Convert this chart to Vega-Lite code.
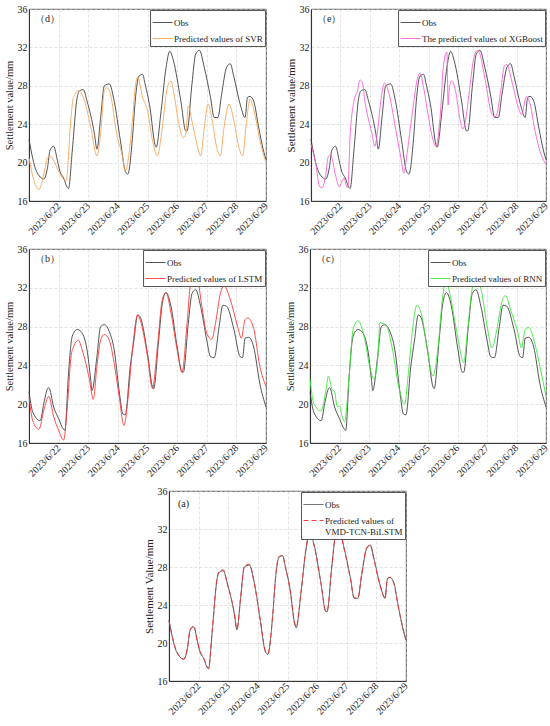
{
  "$schema": "https://vega.github.io/schema/vega-lite/v6.json",
  "background": "white",
  "padding": {"left": 3, "top": 3, "right": 6, "bottom": 2},
  "config": {
    "font": "Liberation Serif",
    "view": {"stroke": "#222", "strokeWidth": 0.8},
    "axis": {
      "labelFont": "Liberation Serif", "labelFontSize": 10, "labelColor": "#222",
      "titleFont": "Liberation Serif", "titleFontSize": 10.5, "titleFontWeight": "normal", "titleColor": "#222",
      "domainColor": "#222", "domainWidth": 0.8, "ticks": false, "labelPadding": 2, "titlePadding": 3,
      "gridColor": "#cfcfcf", "gridDash": [3, 2], "gridWidth": 0.6
    },
    "axisX": {"labelAngle": -45, "labelAlign": "right", "labelBaseline": "middle", "labelOverlap": false, "labelFlush": false, "labelPadding": 3},
    "legend": {
      "orient": "top-right", "offset": 1, "strokeColor": "#555", "fillColor": "white", "padding": 2,
      "labelFont": "Liberation Serif", "labelFontSize": 9, "labelColor": "#222", "symbolSize": 400,
      "symbolStrokeWidth": 1, "rowPadding": 0, "labelOffset": 1, "labelLimit": 200
    },
    "title": {"font": "Liberation Serif", "fontSize": 10, "fontWeight": "normal", "color": "#222", "anchor": "start", "frame": "group", "offset": -20, "dx": 6},
    "line": {"strokeWidth": 0.9, "interpolate": "monotone"}
  },
  "datasets": {
    "obs": [
      {"t": "2023-06-21T00:00", "v": 22.4}, {"t": "2023-06-21T06:00", "v": 19.1}, {"t": "2023-06-21T12:00", "v": 18.3},
      {"t": "2023-06-21T15:00", "v": 19.5}, {"t": "2023-06-21T17:00", "v": 21.3}, {"t": "2023-06-21T20:00", "v": 21.7},
      {"t": "2023-06-21T23:00", "v": 20.2}, {"t": "2023-06-22T01:00", "v": 19.1}, {"t": "2023-06-22T04:00", "v": 18.4},
      {"t": "2023-06-22T07:00", "v": 17.4}, {"t": "2023-06-22T08:00", "v": 17.3}, {"t": "2023-06-22T11:00", "v": 21.2},
      {"t": "2023-06-22T15:00", "v": 26.8}, {"t": "2023-06-22T17:00", "v": 27.5}, {"t": "2023-06-22T20:00", "v": 27.6},
      {"t": "2023-06-22T23:00", "v": 26.4}, {"t": "2023-06-23T05:00", "v": 23.0}, {"t": "2023-06-23T07:00", "v": 21.4},
      {"t": "2023-06-23T10:00", "v": 24.7}, {"t": "2023-06-23T13:00", "v": 28.0}, {"t": "2023-06-23T17:00", "v": 28.2},
      {"t": "2023-06-23T21:00", "v": 26.4}, {"t": "2023-06-24T02:00", "v": 22.3}, {"t": "2023-06-24T06:00", "v": 19.1},
      {"t": "2023-06-24T08:00", "v": 18.8}, {"t": "2023-06-24T12:00", "v": 22.9}, {"t": "2023-06-24T14:00", "v": 26.4},
      {"t": "2023-06-24T17:00", "v": 29.0}, {"t": "2023-06-24T20:00", "v": 29.2}, {"t": "2023-06-24T22:00", "v": 28.2},
      {"t": "2023-06-25T02:00", "v": 25.7}, {"t": "2023-06-25T06:00", "v": 21.9}, {"t": "2023-06-25T07:00", "v": 21.6},
      {"t": "2023-06-25T11:00", "v": 25.4}, {"t": "2023-06-25T15:00", "v": 29.9}, {"t": "2023-06-25T18:00", "v": 31.6},
      {"t": "2023-06-25T21:00", "v": 30.6}, {"t": "2023-06-26T03:00", "v": 26.4}, {"t": "2023-06-26T07:00", "v": 23.3},
      {"t": "2023-06-26T08:00", "v": 23.3}, {"t": "2023-06-26T12:00", "v": 28.2}, {"t": "2023-06-26T15:00", "v": 31.3},
      {"t": "2023-06-26T18:00", "v": 31.7}, {"t": "2023-06-26T22:00", "v": 29.9}, {"t": "2023-06-27T03:00", "v": 26.8},
      {"t": "2023-06-27T06:00", "v": 24.7}, {"t": "2023-06-27T09:00", "v": 24.7}, {"t": "2023-06-27T12:00", "v": 27.1},
      {"t": "2023-06-27T16:00", "v": 29.9}, {"t": "2023-06-27T19:00", "v": 30.3}, {"t": "2023-06-27T22:00", "v": 28.9},
      {"t": "2023-06-28T03:00", "v": 26.1}, {"t": "2023-06-28T07:00", "v": 24.7}, {"t": "2023-06-28T09:00", "v": 26.8},
      {"t": "2023-06-28T11:00", "v": 26.9}, {"t": "2023-06-28T14:00", "v": 26.4}, {"t": "2023-06-28T18:00", "v": 23.7},
      {"t": "2023-06-28T22:00", "v": 21.2}, {"t": "2023-06-29T00:00", "v": 20.3}
    ],
    "obs_bc": [
      {"t": "2023-06-21T00:00", "v": 21.3}, {"t": "2023-06-21T03:00", "v": 19.2}, {"t": "2023-06-21T09:00", "v": 18.3},
      {"t": "2023-06-21T12:00", "v": 20.1}, {"t": "2023-06-21T15:00", "v": 21.6}, {"t": "2023-06-21T16:00", "v": 21.7},
      {"t": "2023-06-21T20:00", "v": 19.7}, {"t": "2023-06-22T00:00", "v": 18.5}, {"t": "2023-06-22T04:00", "v": 17.4},
      {"t": "2023-06-22T05:00", "v": 17.3}, {"t": "2023-06-22T08:00", "v": 23.2}, {"t": "2023-06-22T11:00", "v": 27.0},
      {"t": "2023-06-22T15:00", "v": 27.7}, {"t": "2023-06-22T18:00", "v": 27.5}, {"t": "2023-06-22T23:00", "v": 25.6},
      {"t": "2023-06-23T02:00", "v": 22.5}, {"t": "2023-06-23T03:00", "v": 21.4}, {"t": "2023-06-23T07:00", "v": 24.9},
      {"t": "2023-06-23T10:00", "v": 28.0}, {"t": "2023-06-23T13:00", "v": 28.2}, {"t": "2023-06-23T17:00", "v": 27.5},
      {"t": "2023-06-23T21:00", "v": 25.6}, {"t": "2023-06-24T01:00", "v": 21.4}, {"t": "2023-06-24T04:00", "v": 19.0},
      {"t": "2023-06-24T06:00", "v": 18.9}, {"t": "2023-06-24T10:00", "v": 23.9}, {"t": "2023-06-24T13:00", "v": 26.6},
      {"t": "2023-06-24T16:00", "v": 29.2}, {"t": "2023-06-24T18:00", "v": 29.0}, {"t": "2023-06-25T00:00", "v": 25.2},
      {"t": "2023-06-25T04:00", "v": 21.8}, {"t": "2023-06-25T05:00", "v": 21.6}, {"t": "2023-06-25T09:00", "v": 26.6},
      {"t": "2023-06-25T12:00", "v": 30.4}, {"t": "2023-06-25T15:00", "v": 31.5}, {"t": "2023-06-25T19:00", "v": 30.1},
      {"t": "2023-06-26T00:00", "v": 25.9}, {"t": "2023-06-26T04:00", "v": 23.3}, {"t": "2023-06-26T05:00", "v": 23.3},
      {"t": "2023-06-26T09:00", "v": 28.3}, {"t": "2023-06-26T12:00", "v": 31.4}, {"t": "2023-06-26T15:00", "v": 31.8},
      {"t": "2023-06-26T19:00", "v": 30.1}, {"t": "2023-06-27T00:00", "v": 26.6}, {"t": "2023-06-27T03:00", "v": 24.9},
      {"t": "2023-06-27T06:00", "v": 24.8}, {"t": "2023-06-27T10:00", "v": 28.0}, {"t": "2023-06-27T13:00", "v": 30.2},
      {"t": "2023-06-27T16:00", "v": 30.1}, {"t": "2023-06-27T22:00", "v": 27.7}, {"t": "2023-06-28T03:00", "v": 24.9},
      {"t": "2023-06-28T05:00", "v": 24.8}, {"t": "2023-06-28T07:00", "v": 26.8}, {"t": "2023-06-28T10:00", "v": 26.9},
      {"t": "2023-06-28T14:00", "v": 25.9}, {"t": "2023-06-28T19:00", "v": 22.1}, {"t": "2023-06-29T00:00", "v": 19.7}
    ],
    "svr": [
      {"t": "2023-06-21T00:00", "v": 20.5}, {"t": "2023-06-21T04:00", "v": 18.1}, {"t": "2023-06-21T08:00", "v": 17.2},
      {"t": "2023-06-21T12:00", "v": 18.8}, {"t": "2023-06-21T15:00", "v": 20.5}, {"t": "2023-06-21T17:00", "v": 20.7},
      {"t": "2023-06-21T20:00", "v": 20.2}, {"t": "2023-06-22T00:00", "v": 19.1}, {"t": "2023-06-22T06:00", "v": 18.1},
      {"t": "2023-06-22T10:00", "v": 24.7}, {"t": "2023-06-22T12:00", "v": 26.8}, {"t": "2023-06-22T16:00", "v": 27.5},
      {"t": "2023-06-22T20:00", "v": 26.8}, {"t": "2023-06-23T02:00", "v": 23.7}, {"t": "2023-06-23T07:00", "v": 20.7},
      {"t": "2023-06-23T10:00", "v": 23.0}, {"t": "2023-06-23T13:00", "v": 27.5}, {"t": "2023-06-23T15:00", "v": 27.8},
      {"t": "2023-06-23T18:00", "v": 27.1}, {"t": "2023-06-23T23:00", "v": 23.0}, {"t": "2023-06-24T04:00", "v": 20.5},
      {"t": "2023-06-24T06:00", "v": 19.1}, {"t": "2023-06-24T09:00", "v": 20.9}, {"t": "2023-06-24T12:00", "v": 24.7},
      {"t": "2023-06-24T14:00", "v": 27.8}, {"t": "2023-06-24T16:00", "v": 28.9}, {"t": "2023-06-24T20:00", "v": 26.8},
      {"t": "2023-06-25T00:00", "v": 25.4}, {"t": "2023-06-25T04:00", "v": 22.3}, {"t": "2023-06-25T08:00", "v": 20.7},
      {"t": "2023-06-25T12:00", "v": 23.7}, {"t": "2023-06-25T16:00", "v": 27.8}, {"t": "2023-06-25T19:00", "v": 28.5},
      {"t": "2023-06-25T21:00", "v": 27.5}, {"t": "2023-06-26T01:00", "v": 24.3}, {"t": "2023-06-26T05:00", "v": 22.6},
      {"t": "2023-06-26T07:00", "v": 23.0}, {"t": "2023-06-26T09:00", "v": 25.9}, {"t": "2023-06-26T12:00", "v": 24.3},
      {"t": "2023-06-26T16:00", "v": 21.9}, {"t": "2023-06-26T19:00", "v": 20.7}, {"t": "2023-06-26T22:00", "v": 23.7},
      {"t": "2023-06-27T01:00", "v": 26.1}, {"t": "2023-06-27T04:00", "v": 24.7}, {"t": "2023-06-27T08:00", "v": 21.6},
      {"t": "2023-06-27T11:00", "v": 20.7}, {"t": "2023-06-27T14:00", "v": 23.7}, {"t": "2023-06-27T18:00", "v": 26.1},
      {"t": "2023-06-27T22:00", "v": 24.3}, {"t": "2023-06-28T02:00", "v": 21.6}, {"t": "2023-06-28T05:00", "v": 20.7},
      {"t": "2023-06-28T08:00", "v": 24.0}, {"t": "2023-06-28T11:00", "v": 26.6}, {"t": "2023-06-28T15:00", "v": 25.0},
      {"t": "2023-06-28T19:00", "v": 22.3}, {"t": "2023-06-29T00:00", "v": 20.0}
    ],
    "xgb": [
      {"t": "2023-06-21T00:00", "v": 21.9}, {"t": "2023-06-21T04:00", "v": 19.8}, {"t": "2023-06-21T07:00", "v": 17.5},
      {"t": "2023-06-21T09:00", "v": 17.4}, {"t": "2023-06-21T12:00", "v": 18.7}, {"t": "2023-06-21T14:00", "v": 20.6},
      {"t": "2023-06-21T16:00", "v": 20.8}, {"t": "2023-06-21T20:00", "v": 18.7}, {"t": "2023-06-21T23:00", "v": 17.5},
      {"t": "2023-06-22T03:00", "v": 18.4}, {"t": "2023-06-22T05:00", "v": 17.5}, {"t": "2023-06-22T06:00", "v": 17.4},
      {"t": "2023-06-22T08:00", "v": 22.9}, {"t": "2023-06-22T11:00", "v": 26.4}, {"t": "2023-06-22T14:00", "v": 27.5},
      {"t": "2023-06-22T16:00", "v": 28.6}, {"t": "2023-06-22T18:00", "v": 28.3}, {"t": "2023-06-22T20:00", "v": 26.4},
      {"t": "2023-06-23T02:00", "v": 22.9}, {"t": "2023-06-23T04:00", "v": 21.7}, {"t": "2023-06-23T06:00", "v": 22.9},
      {"t": "2023-06-23T09:00", "v": 26.4}, {"t": "2023-06-23T12:00", "v": 28.3}, {"t": "2023-06-23T15:00", "v": 27.5},
      {"t": "2023-06-23T21:00", "v": 23.6}, {"t": "2023-06-24T01:00", "v": 20.8}, {"t": "2023-06-24T04:00", "v": 18.9},
      {"t": "2023-06-24T06:00", "v": 20.5}, {"t": "2023-06-24T11:00", "v": 25.4}, {"t": "2023-06-24T15:00", "v": 28.8},
      {"t": "2023-06-24T17:00", "v": 29.3}, {"t": "2023-06-24T20:00", "v": 27.8}, {"t": "2023-06-25T00:00", "v": 24.7},
      {"t": "2023-06-25T04:00", "v": 22.2}, {"t": "2023-06-25T06:00", "v": 21.7}, {"t": "2023-06-25T10:00", "v": 25.7},
      {"t": "2023-06-25T12:00", "v": 29.9}, {"t": "2023-06-25T15:00", "v": 31.5}, {"t": "2023-06-25T16:00", "v": 26.0},
      {"t": "2023-06-25T17:00", "v": 27.8}, {"t": "2023-06-25T19:00", "v": 28.5}, {"t": "2023-06-25T22:00", "v": 27.5},
      {"t": "2023-06-26T02:00", "v": 24.3}, {"t": "2023-06-26T04:00", "v": 23.5}, {"t": "2023-06-26T06:00", "v": 24.2},
      {"t": "2023-06-26T09:00", "v": 27.1}, {"t": "2023-06-26T13:00", "v": 30.9}, {"t": "2023-06-26T16:00", "v": 31.7},
      {"t": "2023-06-26T18:00", "v": 31.3}, {"t": "2023-06-26T22:00", "v": 28.8}, {"t": "2023-06-27T04:00", "v": 25.0},
      {"t": "2023-06-27T07:00", "v": 24.8}, {"t": "2023-06-27T11:00", "v": 27.5}, {"t": "2023-06-27T14:00", "v": 30.1},
      {"t": "2023-06-27T16:00", "v": 30.2}, {"t": "2023-06-27T20:00", "v": 28.5}, {"t": "2023-06-28T02:00", "v": 25.5},
      {"t": "2023-06-28T04:00", "v": 25.0}, {"t": "2023-06-28T08:00", "v": 26.9}, {"t": "2023-06-28T11:00", "v": 26.1},
      {"t": "2023-06-28T15:00", "v": 23.3}, {"t": "2023-06-28T19:00", "v": 21.2}, {"t": "2023-06-29T00:00", "v": 19.8}
    ],
    "lstm": [
      {"t": "2023-06-21T00:00", "v": 20.8}, {"t": "2023-06-21T03:00", "v": 18.3}, {"t": "2023-06-21T08:00", "v": 17.4},
      {"t": "2023-06-21T12:00", "v": 19.4}, {"t": "2023-06-21T16:00", "v": 20.8}, {"t": "2023-06-21T20:00", "v": 18.7},
      {"t": "2023-06-22T00:00", "v": 17.3}, {"t": "2023-06-22T04:00", "v": 16.3}, {"t": "2023-06-22T07:00", "v": 19.7},
      {"t": "2023-06-22T10:00", "v": 24.9}, {"t": "2023-06-22T12:00", "v": 25.9}, {"t": "2023-06-22T16:00", "v": 26.6},
      {"t": "2023-06-22T19:00", "v": 25.6}, {"t": "2023-06-23T01:00", "v": 22.5}, {"t": "2023-06-23T04:00", "v": 20.5},
      {"t": "2023-06-23T07:00", "v": 23.9}, {"t": "2023-06-23T10:00", "v": 26.6}, {"t": "2023-06-23T13:00", "v": 27.2},
      {"t": "2023-06-23T17:00", "v": 26.6}, {"t": "2023-06-23T21:00", "v": 24.2}, {"t": "2023-06-24T01:00", "v": 20.8},
      {"t": "2023-06-24T05:00", "v": 17.8}, {"t": "2023-06-24T08:00", "v": 20.4}, {"t": "2023-06-24T12:00", "v": 25.9},
      {"t": "2023-06-24T16:00", "v": 29.2}, {"t": "2023-06-24T18:00", "v": 28.7}, {"t": "2023-06-25T00:00", "v": 24.9},
      {"t": "2023-06-25T04:00", "v": 21.6}, {"t": "2023-06-25T08:00", "v": 25.9}, {"t": "2023-06-25T12:00", "v": 30.8},
      {"t": "2023-06-25T15:00", "v": 31.5}, {"t": "2023-06-25T19:00", "v": 29.4}, {"t": "2023-06-26T00:00", "v": 25.6},
      {"t": "2023-06-26T04:00", "v": 23.3}, {"t": "2023-06-26T08:00", "v": 28.3}, {"t": "2023-06-26T11:00", "v": 32.6},
      {"t": "2023-06-26T14:00", "v": 33.4}, {"t": "2023-06-26T16:00", "v": 33.2}, {"t": "2023-06-26T20:00", "v": 30.1},
      {"t": "2023-06-27T00:00", "v": 27.3}, {"t": "2023-06-27T04:00", "v": 26.7}, {"t": "2023-06-27T07:00", "v": 28.3},
      {"t": "2023-06-27T11:00", "v": 31.4}, {"t": "2023-06-27T14:00", "v": 32.2}, {"t": "2023-06-27T19:00", "v": 30.8},
      {"t": "2023-06-28T01:00", "v": 28.0}, {"t": "2023-06-28T04:00", "v": 26.8}, {"t": "2023-06-28T07:00", "v": 28.7},
      {"t": "2023-06-28T09:00", "v": 28.9}, {"t": "2023-06-28T14:00", "v": 27.8}, {"t": "2023-06-28T19:00", "v": 23.9},
      {"t": "2023-06-29T00:00", "v": 21.8}
    ],
    "rnn": [
      {"t": "2023-06-21T00:00", "v": 22.6}, {"t": "2023-06-21T03:00", "v": 20.1}, {"t": "2023-06-21T09:00", "v": 19.3},
      {"t": "2023-06-21T13:00", "v": 21.5}, {"t": "2023-06-21T15:00", "v": 22.9}, {"t": "2023-06-21T18:00", "v": 21.5},
      {"t": "2023-06-21T20:00", "v": 21.3}, {"t": "2023-06-21T22:00", "v": 19.8}, {"t": "2023-06-22T00:00", "v": 19.8},
      {"t": "2023-06-22T02:00", "v": 18.8}, {"t": "2023-06-22T04:00", "v": 18.2}, {"t": "2023-06-22T08:00", "v": 23.2},
      {"t": "2023-06-22T11:00", "v": 27.7}, {"t": "2023-06-22T15:00", "v": 28.6}, {"t": "2023-06-22T20:00", "v": 27.0},
      {"t": "2023-06-23T01:00", "v": 23.6}, {"t": "2023-06-23T04:00", "v": 22.6}, {"t": "2023-06-23T07:00", "v": 24.6},
      {"t": "2023-06-23T09:00", "v": 28.4}, {"t": "2023-06-23T14:00", "v": 28.1}, {"t": "2023-06-23T19:00", "v": 25.7},
      {"t": "2023-06-24T00:00", "v": 21.9}, {"t": "2023-06-24T05:00", "v": 20.0}, {"t": "2023-06-24T08:00", "v": 23.2},
      {"t": "2023-06-24T12:00", "v": 28.4}, {"t": "2023-06-24T15:00", "v": 30.2}, {"t": "2023-06-24T19:00", "v": 29.1},
      {"t": "2023-06-24T23:00", "v": 26.0}, {"t": "2023-06-25T04:00", "v": 22.9}, {"t": "2023-06-25T08:00", "v": 25.7},
      {"t": "2023-06-25T12:00", "v": 31.2}, {"t": "2023-06-25T15:00", "v": 32.6}, {"t": "2023-06-25T18:00", "v": 31.2},
      {"t": "2023-06-26T00:00", "v": 27.0}, {"t": "2023-06-26T05:00", "v": 24.3}, {"t": "2023-06-26T08:00", "v": 27.4},
      {"t": "2023-06-26T12:00", "v": 31.9}, {"t": "2023-06-26T15:00", "v": 32.7}, {"t": "2023-06-26T19:00", "v": 31.9},
      {"t": "2023-06-27T00:00", "v": 28.1}, {"t": "2023-06-27T04:00", "v": 25.8}, {"t": "2023-06-27T08:00", "v": 27.7},
      {"t": "2023-06-27T12:00", "v": 30.5}, {"t": "2023-06-27T15:00", "v": 31.2}, {"t": "2023-06-27T19:00", "v": 29.8},
      {"t": "2023-06-28T01:00", "v": 27.4}, {"t": "2023-06-28T04:00", "v": 25.8}, {"t": "2023-06-28T07:00", "v": 27.7},
      {"t": "2023-06-28T10:00", "v": 27.9}, {"t": "2023-06-28T14:00", "v": 26.7}, {"t": "2023-06-28T19:00", "v": 23.9},
      {"t": "2023-06-29T00:00", "v": 20.8}
    ],
    "vmd": [
      {"t": "2023-06-21T00:00", "v": 22.3}, {"t": "2023-06-21T06:00", "v": 19.2}, {"t": "2023-06-21T12:00", "v": 18.3},
      {"t": "2023-06-21T15:00", "v": 19.6}, {"t": "2023-06-21T17:00", "v": 21.4}, {"t": "2023-06-21T20:00", "v": 21.8},
      {"t": "2023-06-21T23:00", "v": 20.1}, {"t": "2023-06-22T01:00", "v": 19.2}, {"t": "2023-06-22T04:00", "v": 18.4},
      {"t": "2023-06-22T07:00", "v": 17.5}, {"t": "2023-06-22T08:00", "v": 17.3}, {"t": "2023-06-22T11:00", "v": 21.4},
      {"t": "2023-06-22T15:00", "v": 26.9}, {"t": "2023-06-22T17:00", "v": 27.6}, {"t": "2023-06-22T20:00", "v": 27.7},
      {"t": "2023-06-22T23:00", "v": 26.3}, {"t": "2023-06-23T05:00", "v": 23.1}, {"t": "2023-06-23T07:00", "v": 21.5},
      {"t": "2023-06-23T10:00", "v": 24.8}, {"t": "2023-06-23T13:00", "v": 28.1}, {"t": "2023-06-23T17:00", "v": 28.3},
      {"t": "2023-06-23T21:00", "v": 26.3}, {"t": "2023-06-24T02:00", "v": 22.4}, {"t": "2023-06-24T06:00", "v": 19.2},
      {"t": "2023-06-24T08:00", "v": 18.9}, {"t": "2023-06-24T12:00", "v": 23.0}, {"t": "2023-06-24T14:00", "v": 26.5},
      {"t": "2023-06-24T17:00", "v": 29.1}, {"t": "2023-06-24T20:00", "v": 29.2}, {"t": "2023-06-24T22:00", "v": 28.1},
      {"t": "2023-06-25T02:00", "v": 25.6}, {"t": "2023-06-25T06:00", "v": 22.0}, {"t": "2023-06-25T07:00", "v": 21.7},
      {"t": "2023-06-25T11:00", "v": 25.5}, {"t": "2023-06-25T15:00", "v": 30.0}, {"t": "2023-06-25T18:00", "v": 31.6},
      {"t": "2023-06-25T21:00", "v": 30.5}, {"t": "2023-06-26T03:00", "v": 26.3}, {"t": "2023-06-26T07:00", "v": 23.4},
      {"t": "2023-06-26T08:00", "v": 23.4}, {"t": "2023-06-26T12:00", "v": 28.3}, {"t": "2023-06-26T15:00", "v": 31.4},
      {"t": "2023-06-26T18:00", "v": 31.7}, {"t": "2023-06-26T22:00", "v": 29.8}, {"t": "2023-06-27T03:00", "v": 26.7},
      {"t": "2023-06-27T06:00", "v": 24.8}, {"t": "2023-06-27T09:00", "v": 24.8}, {"t": "2023-06-27T12:00", "v": 27.2},
      {"t": "2023-06-27T16:00", "v": 30.0}, {"t": "2023-06-27T19:00", "v": 30.3}, {"t": "2023-06-27T22:00", "v": 28.8},
      {"t": "2023-06-28T03:00", "v": 26.0}, {"t": "2023-06-28T07:00", "v": 24.8}, {"t": "2023-06-28T09:00", "v": 26.8},
      {"t": "2023-06-28T11:00", "v": 26.9}, {"t": "2023-06-28T14:00", "v": 26.3}, {"t": "2023-06-28T18:00", "v": 23.6},
      {"t": "2023-06-28T22:00", "v": 21.3}, {"t": "2023-06-29T00:00", "v": 20.3}
    ]
  },
  "spacing": 6,
  "center": true,
  "resolve": {"scale": {"color": "independent", "strokeDash": "independent"}, "legend": {"color": "independent", "strokeDash": "independent"}},
  "vconcat": [
    {
      "hconcat": [
        {
          "title": {"text": "（d）"},
          "width": 237, "height": 192,
          "encoding": {
            "x": {"field": "t", "type": "temporal", "title": null,
              "scale": {"domain": [{"year": 2023, "month": 6, "date": 21}, {"year": 2023, "month": 6, "date": 29}], "nice": false},
              "axis": {"format": "%Y/%-m/%-d", "values": [{"year": 2023, "month": 6, "date": 22}, {"year": 2023, "month": 6, "date": 23}, {"year": 2023, "month": 6, "date": 24}, {"year": 2023, "month": 6, "date": 25}, {"year": 2023, "month": 6, "date": 26}, {"year": 2023, "month": 6, "date": 27}, {"year": 2023, "month": 6, "date": 28}, {"year": 2023, "month": 6, "date": 29}]}},
            "y": {"field": "v", "type": "quantitative", "title": "Settlement value/mm",
              "scale": {"domain": [16, 36], "nice": false, "zero": false}, "axis": {"values": [16, 20, 24, 28, 32, 36]}}
          },
          "layer": [
            {"data": {"name": "obs"}, "mark": "line",
              "encoding": {"color": {"datum": "Obs", "scale": {"domain": ["Obs", "Predicted values of SVR"], "range": ["#404040", "#f8a65a"]}, "legend": {"title": null}}}},
            {"data": {"name": "svr"}, "mark": "line", "encoding": {"color": {"datum": "Predicted values of SVR"}}}
          ]
        },
        {
          "title": {"text": "（e）"},
          "width": 235, "height": 192,
          "encoding": {
            "x": {"field": "t", "type": "temporal", "title": null,
              "scale": {"domain": [{"year": 2023, "month": 6, "date": 21}, {"year": 2023, "month": 6, "date": 29}], "nice": false},
              "axis": {"format": "%Y/%-m/%-d", "values": [{"year": 2023, "month": 6, "date": 22}, {"year": 2023, "month": 6, "date": 23}, {"year": 2023, "month": 6, "date": 24}, {"year": 2023, "month": 6, "date": 25}, {"year": 2023, "month": 6, "date": 26}, {"year": 2023, "month": 6, "date": 27}, {"year": 2023, "month": 6, "date": 28}, {"year": 2023, "month": 6, "date": 29}]}},
            "y": {"field": "v", "type": "quantitative", "title": "Settlement value/mm",
              "scale": {"domain": [16, 36], "nice": false, "zero": false}, "axis": {"values": [16, 20, 24, 28, 32, 36], "titleFontSize": 11}}
          },
          "layer": [
            {"data": {"name": "obs"}, "mark": "line",
              "encoding": {"color": {"datum": "Obs", "scale": {"domain": ["Obs", "The predicted values of XGBoost"], "range": ["#404040", "#ff5fd2"]}, "legend": {"title": null}}}},
            {"data": {"name": "xgb"}, "mark": "line", "encoding": {"color": {"datum": "The predicted values of XGBoost"}}}
          ]
        }
      ],
      "spacing": 14,
      "resolve": {"scale": {"color": "independent"}, "legend": {"color": "independent"}}
    },
    {
      "hconcat": [
        {
          "title": {"text": "（b）"},
          "width": 237, "height": 194,
          "encoding": {
            "x": {"field": "t", "type": "temporal", "title": null,
              "scale": {"domain": [{"year": 2023, "month": 6, "date": 21}, {"year": 2023, "month": 6, "date": 29}], "nice": false},
              "axis": {"format": "%Y/%-m/%-d", "values": [{"year": 2023, "month": 6, "date": 22}, {"year": 2023, "month": 6, "date": 23}, {"year": 2023, "month": 6, "date": 24}, {"year": 2023, "month": 6, "date": 25}, {"year": 2023, "month": 6, "date": 26}, {"year": 2023, "month": 6, "date": 27}, {"year": 2023, "month": 6, "date": 28}, {"year": 2023, "month": 6, "date": 29}]}},
            "y": {"field": "v", "type": "quantitative", "title": "Settlement value/mm",
              "scale": {"domain": [16, 36], "nice": false, "zero": false}, "axis": {"values": [16, 20, 24, 28, 32, 36]}}
          },
          "layer": [
            {"data": {"name": "obs_bc"}, "mark": "line",
              "encoding": {"color": {"datum": "Obs", "scale": {"domain": ["Obs", "Predicted values of LSTM"], "range": ["#404040", "#ff3a3a"]}, "legend": {"title": null}}}},
            {"data": {"name": "lstm"}, "mark": "line", "encoding": {"color": {"datum": "Predicted values of LSTM"}}}
          ]
        },
        {
          "title": {"text": "（c）"},
          "width": 236, "height": 194,
          "encoding": {
            "x": {"field": "t", "type": "temporal", "title": null,
              "scale": {"domain": [{"year": 2023, "month": 6, "date": 21}, {"year": 2023, "month": 6, "date": 29}], "nice": false},
              "axis": {"format": "%Y/%-m/%-d", "values": [{"year": 2023, "month": 6, "date": 22}, {"year": 2023, "month": 6, "date": 23}, {"year": 2023, "month": 6, "date": 24}, {"year": 2023, "month": 6, "date": 25}, {"year": 2023, "month": 6, "date": 26}, {"year": 2023, "month": 6, "date": 27}, {"year": 2023, "month": 6, "date": 28}, {"year": 2023, "month": 6, "date": 29}]}},
            "y": {"field": "v", "type": "quantitative", "title": "Settlement value/mm",
              "scale": {"domain": [16, 36], "nice": false, "zero": false}, "axis": {"values": [16, 20, 24, 28, 32, 36]}}
          },
          "layer": [
            {"data": {"name": "obs_bc"}, "mark": "line",
              "encoding": {"color": {"datum": "Obs", "scale": {"domain": ["Obs", "Predicted values of RNN"], "range": ["#404040", "#3ee83e"]}, "legend": {"title": null}}}},
            {"data": {"name": "rnn"}, "mark": "line", "encoding": {"color": {"datum": "Predicted values of RNN"}}}
          ]
        }
      ],
      "spacing": 14,
      "resolve": {"scale": {"color": "independent"}, "legend": {"color": "independent"}}
    },
    {
      "title": {"text": "(a)", "dx": 9, "offset": -23},
      "width": 237, "height": 190,
      "encoding": {
        "x": {"field": "t", "type": "temporal", "title": null,
          "scale": {"domain": [{"year": 2023, "month": 6, "date": 21}, {"year": 2023, "month": 6, "date": 29}], "nice": false},
          "axis": {"format": "%Y/%-m/%-d", "values": [{"year": 2023, "month": 6, "date": 22}, {"year": 2023, "month": 6, "date": 23}, {"year": 2023, "month": 6, "date": 24}, {"year": 2023, "month": 6, "date": 25}, {"year": 2023, "month": 6, "date": 26}, {"year": 2023, "month": 6, "date": 27}, {"year": 2023, "month": 6, "date": 28}, {"year": 2023, "month": 6, "date": 29}]}},
        "y": {"field": "v", "type": "quantitative", "title": "Settlement Value/mm",
          "scale": {"domain": [16, 36], "nice": false, "zero": false}, "axis": {"values": [16, 20, 24, 28, 32, 36], "titleFontSize": 11}}
      },
      "layer": [
        {"data": {"name": "obs"}, "mark": "line",
          "encoding": {
            "color": {"datum": "Obs", "scale": {"domain": ["Obs", "Predicted values of VMD-TCN-BiLSTM"], "range": ["#404040", "#ff2a2a"]},
              "legend": {"title": null, "labelExpr": "datum.label == 'Obs' ? 'Obs' : ['Predicted values of', 'VMD-TCN-BiLSTM']"}},
            "strokeDash": {"datum": "Obs", "scale": {"domain": ["Obs", "Predicted values of VMD-TCN-BiLSTM"], "range": [[1, 0], [5, 3]]},
              "legend": {"title": null, "labelExpr": "datum.label == 'Obs' ? 'Obs' : ['Predicted values of', 'VMD-TCN-BiLSTM']"}}
          }},
        {"data": {"name": "vmd"}, "mark": "line",
          "encoding": {"color": {"datum": "Predicted values of VMD-TCN-BiLSTM"}, "strokeDash": {"datum": "Predicted values of VMD-TCN-BiLSTM"}}}
      ]
    }
  ]
}
